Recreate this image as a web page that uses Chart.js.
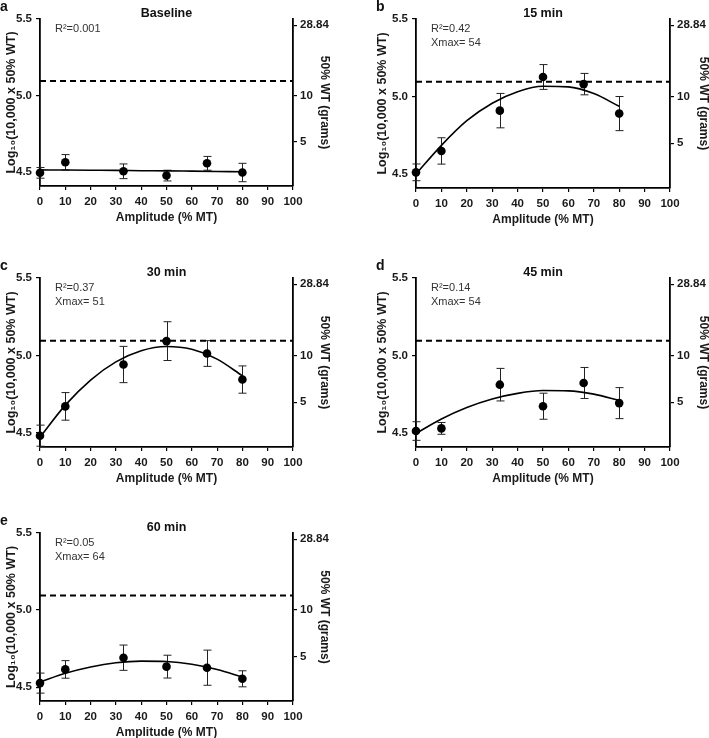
<!DOCTYPE html>
<html><head><meta charset="utf-8">
<script src="https://cdn.jsdelivr.net/npm/chart.js@4/dist/chart.umd.min.js"></script>
<style>
html,body{margin:0;padding:0;background:#fff;overflow:hidden;width:709px;height:738px;}
canvas.p{position:absolute;}
</style></head><body>
<canvas id="ca" class="p"></canvas>
<canvas id="cb" class="p"></canvas>
<canvas id="cc" class="p"></canvas>
<canvas id="cd" class="p"></canvas>
<canvas id="ce" class="p"></canvas>
<script>
// ---- data ----
const amplitudes = [0, 10, 33, 50, 66, 80];
const fitAmplitudes = [0, 10, 20, 30, 40, 50, 60, 70, 80];
const leftTicks = [4.5, 5.0, 5.5];
const rightTickLabels = ['5', '10', '28.84'];
const threshold = 5.095;

const baselineMean = [4.496, 4.565, 4.506, 4.478, 4.558, 4.498];
const baselineErr  = [0.035, 0.050, 0.048, 0.035, 0.045, 0.060];
const baselineFit  = [4.515, 4.514, 4.513, 4.512, 4.510, 4.509, 4.507, 4.505, 4.503];

const min15Mean = [4.511, 4.649, 4.909, 5.126, 5.080, 4.890];
const min15Err  = [0.054, 0.085, 0.111, 0.080, 0.069, 0.110];
const min15Fit  = [4.500, 4.685, 4.844, 4.957, 5.031, 5.066, 5.062, 5.019, 4.937];

const min30Mean = [4.483, 4.672, 4.942, 5.093, 5.013, 4.845];
const min30Err  = [0.068, 0.089, 0.117, 0.125, 0.083, 0.088];
const min30Fit  = [4.473, 4.680, 4.842, 4.959, 5.031, 5.058, 5.040, 4.977, 4.869];

const min45Mean = [4.513, 4.530, 4.812, 4.673, 4.823, 4.693];
const min45Err  = [0.060, 0.038, 0.105, 0.084, 0.100, 0.100];
const min45Fit  = [4.498, 4.591, 4.665, 4.720, 4.756, 4.774, 4.772, 4.751, 4.711];

const min60Mean = [4.526, 4.615, 4.691, 4.633, 4.626, 4.554];
const min60Err  = [0.065, 0.057, 0.082, 0.074, 0.114, 0.052];
const min60Fit  = [4.533, 4.590, 4.631, 4.658, 4.669, 4.666, 4.648, 4.614, 4.566];

const FONT = "'Liberation Sans', Arial, sans-serif";

const panels = [
  {canvas:'ca', x:0,   y:0,   letter:'a', title:'Baseline', stats:['R\u00B2=0.001'], mean:baselineMean, err:baselineErr, fit:baselineFit,
   pad:{left:4, top:19, right:28, bottom:23}, lw:36, rw:39},
  {canvas:'cb', x:355, y:0,   letter:'b', title:'15 min', stats:['R\u00B2=0.42','Xmax= 54'], mean:min15Mean, err:min15Err, fit:min15Fit,
   pad:{left:20, top:19, right:4, bottom:21}, lw:41, rw:41},
  {canvas:'cc', x:0,   y:240, letter:'c', title:'30 min', stats:['R\u00B2=0.37','Xmax= 51'], mean:min30Mean, err:min30Err, fit:min30Fit,
   pad:{left:4, top:38, right:28, bottom:2}, lw:36, rw:39},
  {canvas:'cd', x:355, y:240, letter:'d', title:'45 min', stats:['R\u00B2=0.14','Xmax= 54'], mean:min45Mean, err:min45Err, fit:min45Fit,
   pad:{left:20, top:38, right:4, bottom:2}, lw:41, rw:41},
  {canvas:'ce', x:0,   y:495, letter:'e', title:'60 min', stats:['R\u00B2=0.05','Xmax= 64'], mean:min60Mean, err:min60Err, fit:min60Fit,
   pad:{left:4, top:38, right:28, bottom:3}, lw:36, rw:39}
];

const panelDecor = {
  id: 'panelDecor',
  beforeDatasetsDraw(chart, args, opts) {
    const ctx = chart.ctx, xs = chart.scales.x, ys = chart.scales.y;
    ctx.save();
    ctx.strokeStyle = '#222';
    ctx.lineWidth = 1;
    amplitudes.forEach((a, i) => {
      const px = Math.round(xs.getPixelForValue(a)) + 0.5;
      const top = ys.getPixelForValue(opts.mean[i] + opts.err[i]);
      const bot = ys.getPixelForValue(opts.mean[i] - opts.err[i]);
      ctx.beginPath();
      ctx.moveTo(px, top); ctx.lineTo(px, bot);
      ctx.moveTo(px - 4, top); ctx.lineTo(px + 4, top);
      ctx.moveTo(px - 4, bot); ctx.lineTo(px + 4, bot);
      ctx.stroke();
    });
    ctx.restore();
  },
  afterDraw(chart, args, opts) {
    const ctx = chart.ctx, area = chart.chartArea;
    ctx.save();
    ctx.fillStyle = '#111';
    ctx.textBaseline = 'middle';
    ctx.textAlign = 'left';
    ctx.font = 'bold 14px ' + FONT;
    ctx.fillText(opts.letter, area.left - 40, area.top - 12);
    ctx.textAlign = 'center';
    ctx.font = 'bold 12.5px ' + FONT;
    ctx.fillText(opts.title, (area.left + area.right) / 2, area.top - 5.5);
    ctx.textAlign = 'left';
    ctx.font = '11px ' + FONT;
    ctx.fillStyle = '#333';
    opts.stats.forEach((s, i) => ctx.fillText(s, area.left + 15, area.top + 10 + i * 13.5));
    ctx.restore();
  }
};

Chart.defaults.font.family = FONT;

function tickFont() { return {family: FONT, size: 11.5, weight: 'bold'}; }
function titleFont() { return {family: FONT, size: 12, weight: 'bold'}; }

function build(p) {
  const cv = document.getElementById(p.canvas);
  cv.width = 360; cv.height = 248;
  cv.style.left = p.x + 'px'; cv.style.top = p.y + 'px';
  const axisCommon = {
    grid: {drawOnChartArea: false, drawTicks: true, tickLength: 4, color: '#000', lineWidth: 1.2},
    border: {display: true, color: '#000', width: 1.8}
  };
  new Chart(cv, {
    type: 'scatter',
    data: {datasets: [
      {data: amplitudes.map((a, i) => ({x: a, y: p.mean[i]})), showLine: false, pointRadius: 4.3,
       pointBackgroundColor: '#000', pointBorderColor: '#000', pointBorderWidth: 0, clip: false, order: 0},
      {data: fitAmplitudes.map((a, i) => ({x: a, y: p.fit[i]})), showLine: true, pointRadius: 0,
       borderColor: '#000', borderWidth: 1.6, cubicInterpolationMode: 'monotone', clip: false, order: 1},
      {data: [{x: 0, y: threshold}, {x: 100, y: threshold}], showLine: true, pointRadius: 0,
       borderColor: '#000', borderWidth: 2, borderDash: [6, 4], order: 2}
    ]},
    options: {
      responsive: false, animation: false, devicePixelRatio: 1,
      layout: {padding: p.pad},
      plugins: {
        legend: {display: false}, tooltip: {enabled: false}, title: {display: false},
        panelDecor: {letter: p.letter, title: p.title, stats: p.stats, mean: p.mean, err: p.err}
      },
      scales: {
        x: Object.assign({}, axisCommon, {
          type: 'linear', position: 'bottom', min: 0, max: 100,
          ticks: {stepSize: 10, font: tickFont(), color: '#1a1a1a', padding: 5, maxRotation: 0, autoSkip: false},
          title: {display: true, text: 'Amplitude (% MT)', font: titleFont(), color: '#1a1a1a', padding: 0},
          afterFit: s => { s.height = 39; }
        }),
        y: Object.assign({}, axisCommon, {
          type: 'linear', position: 'left', min: 4.41, max: 5.5,
          afterBuildTicks: s => { s.ticks = leftTicks.map(v => ({value: v})); },
          ticks: {font: tickFont(), color: '#1a1a1a', padding: 4, callback: v => Number(v).toFixed(1)},
          title: {display: true, text: 'Log\u2081\u2080(10,000 x 50% WT)', font: {family: FONT, size: 12.5, weight: 'bold'}, color: '#1a1a1a', padding: 0},
          afterFit: s => { s.width = p.lw; }
        }),
        y2: Object.assign({}, axisCommon, {
          type: 'linear', position: 'right', min: 4.41, max: 5.5,
          afterBuildTicks: s => { s.ticks = rightTickLabels.map(l => ({value: Math.log10(parseFloat(l) * 10000)})); },
          ticks: {font: tickFont(), color: '#1a1a1a', padding: 3, callback: (v, i) => rightTickLabels[i]},
          title: {display: true, text: '50% WT (grams)', font: titleFont(), color: '#1a1a1a', padding: 0},
          afterFit: s => { s.width = p.rw; }
        })
      }
    },
    plugins: [panelDecor]
  });
}
panels.forEach(build);
</script>
</body></html>
